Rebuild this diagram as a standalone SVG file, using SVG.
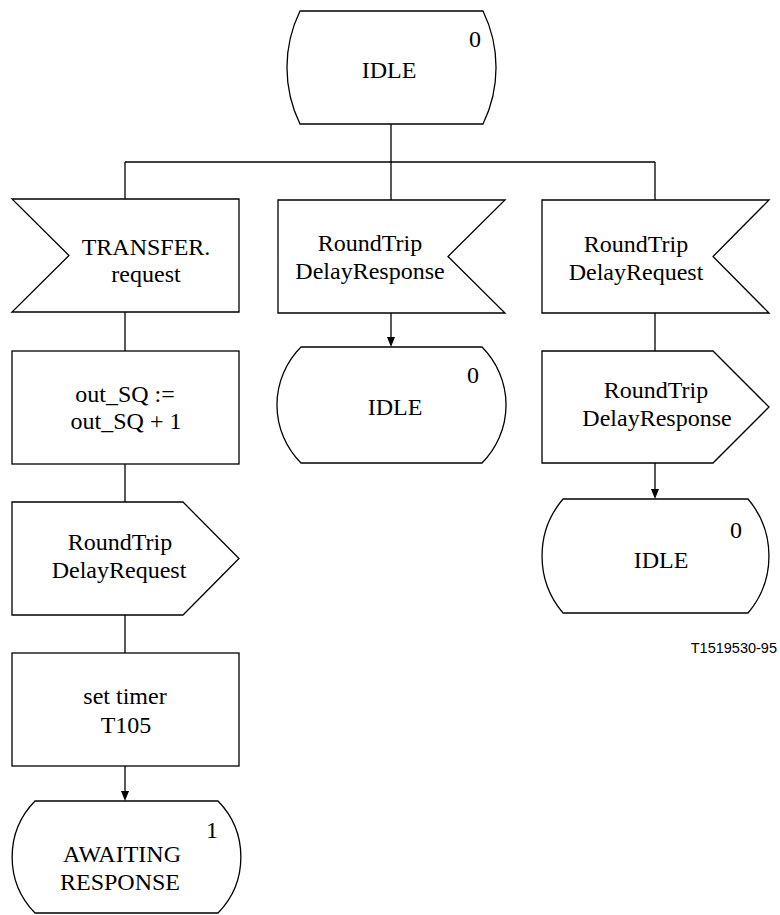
<svg xmlns="http://www.w3.org/2000/svg" width="780" height="915" viewBox="0 0 780 915">
<style>
.s{fill:#fff;stroke:#000;stroke-width:1.3}
.c{fill:none;stroke:#000;stroke-width:1.3}
.t{font-family:'Liberation Serif','DejaVu Serif',serif;font-size:24px;fill:#000;text-anchor:middle}
.n{font-family:'Liberation Serif','DejaVu Serif',serif;font-size:24px;fill:#000;text-anchor:start}
.f{font-family:'Liberation Sans',Arial,sans-serif;font-size:14.5px;fill:#000;text-anchor:end}
</style>
<g id="connectors">
<line class="c" x1="391" y1="124" x2="391" y2="162"/>
<line class="c" x1="125" y1="162" x2="655" y2="162"/>
<line class="c" x1="125" y1="162" x2="125" y2="199"/>
<line class="c" x1="391" y1="162" x2="391" y2="200"/>
<line class="c" x1="655" y1="162" x2="655" y2="200"/>
<line class="c" x1="125" y1="312" x2="125" y2="351"/>
<line class="c" x1="125" y1="464" x2="125" y2="502"/>
<line class="c" x1="125" y1="615" x2="125" y2="653"/>
<line class="c" x1="125" y1="766" x2="125" y2="791"/>
<path d="M121,791 L129,791 L125,801 Z" fill="#000"/>
<line class="c" x1="391" y1="313" x2="391" y2="337"/>
<path d="M387,337 L395,337 L391,347 Z" fill="#000"/>
<line class="c" x1="655" y1="313" x2="655" y2="351"/>
<line class="c" x1="655" y1="463" x2="655" y2="489"/>
<path d="M651,489 L659,489 L655,499 Z" fill="#000"/>
</g>
<g id="idle-top">
<path class="s" d="M300,11 L483,11 A129,129 0 0 1 483,124 L300,124 A129,129 0 0 1 300,11 Z"/>
<text class="n" x="469" y="47">0</text>
<text class="t" x="389" y="78">IDLE</text>
</g>
<g id="transfer-request">
<path class="s" d="M12,199 L239,199 L239,312 L12,312 L69,255.5 Z"/>
<text class="t" x="146" y="255">TRANSFER.</text>
<text class="t" x="146" y="282">request</text>
</g>
<g id="rtd-response-in">
<path class="s" d="M278,200 L505,200 L448,256.5 L505,313 L278,313 Z"/>
<text class="t" x="370" y="251">RoundTrip</text>
<text class="t" x="370" y="279">DelayResponse</text>
</g>
<g id="rtd-request-in">
<path class="s" d="M542,200 L769,200 L713,256.5 L769,313 L542,313 Z"/>
<text class="t" x="636" y="252">RoundTrip</text>
<text class="t" x="636" y="280">DelayRequest</text>
</g>
<g id="assign-sq">
<rect class="s" x="12" y="351" width="227" height="113"/>
<text class="t" x="125" y="402">out_SQ :=</text>
<text class="t" x="126" y="429">out_SQ + 1</text>
</g>
<g id="idle-middle">
<path class="s" d="M301,347 L482,347 A82,82 0 0 1 482,463 L301,463 A82,82 0 0 1 301,347 Z"/>
<text class="n" x="467" y="383">0</text>
<text class="t" x="395" y="415">IDLE</text>
</g>
<g id="rtd-response-out">
<path class="s" d="M542,351 L713,351 L769,407 L713,463 L542,463 Z"/>
<text class="t" x="656" y="398">RoundTrip</text>
<text class="t" x="657" y="426">DelayResponse</text>
</g>
<g id="rtd-request-out">
<path class="s" d="M12,502 L183,502 L239,558.5 L183,615 L12,615 Z"/>
<text class="t" x="120" y="550">RoundTrip</text>
<text class="t" x="119" y="578">DelayRequest</text>
</g>
<g id="idle-right">
<path class="s" d="M563,499 L748,499 A88,88 0 0 1 748,613 L563,613 A88,88 0 0 1 563,499 Z"/>
<text class="n" x="730" y="538">0</text>
<text class="t" x="661" y="568">IDLE</text>
</g>
<g id="set-timer">
<rect class="s" x="12" y="653" width="227" height="113"/>
<text class="t" x="125" y="704">set timer</text>
<text class="t" x="126" y="733">T105</text>
</g>
<g id="awaiting-response">
<path class="s" d="M35,801 L218,801 A80,80 0 0 1 218,913 L35,913 A80,80 0 0 1 35,801 Z"/>
<text class="n" x="206" y="838">1</text>
<text class="t" x="122" y="862">AWAITING</text>
<text class="t" x="120" y="890">RESPONSE</text>
</g>
<text class="f" x="777" y="653">T1519530-95</text>
</svg>
